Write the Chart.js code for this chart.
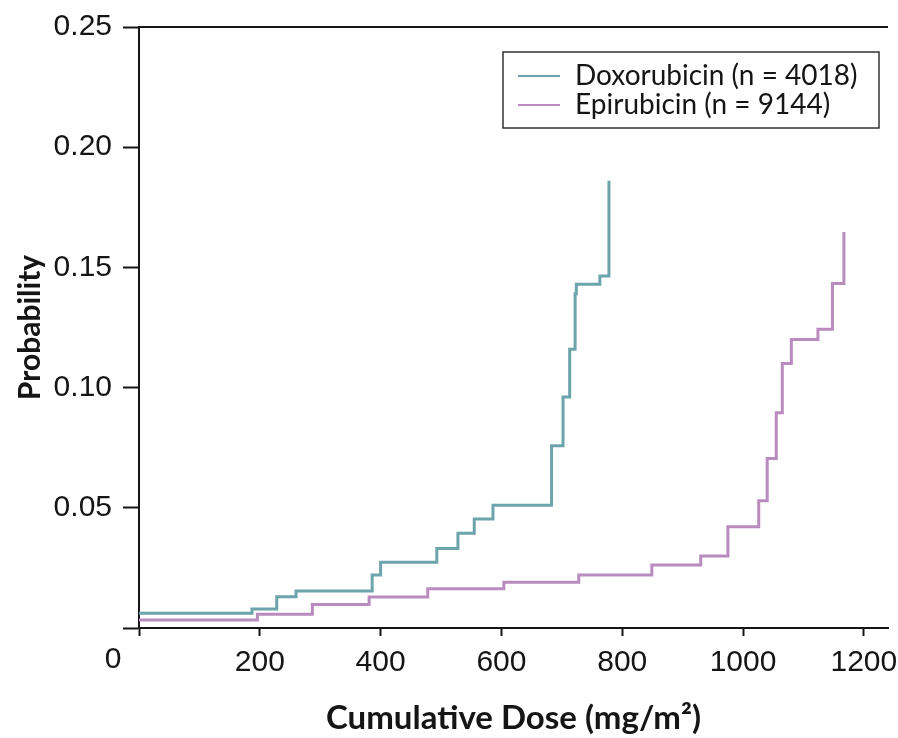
<!DOCTYPE html>
<html>
<head>
<meta charset="utf-8">
<script src="https://cdn.jsdelivr.net/npm/chart.js@4"></script>
<style>
  html, body { margin: 0; padding: 0; background: #fff; }
</style>
</head>
<body>
<canvas id="canvas" width="898" height="738"></canvas>
<script>
// cumulative probability of cardiotoxicity vs cumulative dose (step curves)
const doxDose = [0, 187, 228, 260, 386, 400, 493, 528, 555, 586, 683, 702, 713, 722, 724, 763, 778];
const doxProb = [0.0061, 0.0079, 0.013, 0.0154, 0.022, 0.0274, 0.0331, 0.0394, 0.0453, 0.0511, 0.0758, 0.0961, 0.116, 0.139, 0.143, 0.1464, 0.186];

const epiDose = [0, 196, 287, 381, 478, 604, 728, 849, 930, 975, 1026, 1040, 1055, 1065, 1080, 1124, 1148, 1167];
const epiProb = [0.0033, 0.0057, 0.0098, 0.0129, 0.0163, 0.019, 0.022, 0.0262, 0.0299, 0.0421, 0.0529, 0.0705, 0.0895, 0.110, 0.120, 0.1243, 0.1433, 0.1647];

const seriesLabels = ["Doxorubicin (n = 4018)", "Epirubicin (n = 9144)"];
const xTicks = [0, 200, 400, 600, 800, 1000, 1200];
const yTicks = [0, 0.05, 0.10, 0.15, 0.20, 0.25];

const ink = "#151515";
const tickFont = { family: "Liberation Sans", size: 30 };

function toPoints(xs, ys) {
  return xs.map((x, i) => ({ x: x, y: ys[i] }));
}

// top border line, the "0" origin label and the boxed legend
const extras = {
  id: "extras",
  afterDraw(chart) {
    const { ctx, chartArea, scales } = chart;
    ctx.save();

    ctx.strokeStyle = ink;
    ctx.lineWidth = 2;
    ctx.beginPath();
    ctx.moveTo(chartArea.left, chartArea.top);
    ctx.lineTo(chartArea.right, chartArea.top);
    ctx.stroke();

    ctx.font = tickFont.size + "px " + tickFont.family;
    ctx.fillStyle = ink;
    ctx.textAlign = "center";
    ctx.textBaseline = "middle";
    ctx.fillText("0", scales.x.getPixelForValue(0) - 26, chartArea.bottom + 32);

    // legend
    const bx = chartArea.right - 385, by = chartArea.top + 25;
    const bw = 376, bh = 76;
    ctx.lineWidth = 1.5;
    ctx.strokeStyle = "#333";
    ctx.strokeRect(bx, by, bw, bh);
    ctx.font = "28px Lato";
    ctx.textAlign = "left";
    ctx.textBaseline = "middle";
    chart.data.datasets.forEach((ds, i) => {
      const y = by + 24 + i * 29;
      ctx.strokeStyle = ds.borderColor;
      ctx.lineWidth = 2;
      ctx.beginPath();
      ctx.moveTo(bx + 15, y);
      ctx.lineTo(bx + 57, y);
      ctx.stroke();
      ctx.fillStyle = ink;
      ctx.fillText(ds.label, bx + 72, y);
    });
    ctx.restore();
  }
};

const chart = new Chart(document.getElementById("canvas"), {
  type: "line",
  data: {
    datasets: [
      {
        label: seriesLabels[0],
        data: toPoints(doxDose, doxProb),
        borderColor: "#6ca4ab",
        borderWidth: 3,
        stepped: "before",
        pointRadius: 0,
        fill: false,
      },
      {
        label: seriesLabels[1],
        data: toPoints(epiDose, epiProb),
        borderColor: "#b98bbf",
        borderWidth: 3,
        stepped: "before",
        pointRadius: 0,
        fill: false,
      },
    ],
  },
  options: {
    responsive: false,
    animation: false,
    layout: { padding: { top: 27, right: 10, left: 0, bottom: 0 } },
    plugins: {
      legend: { display: false },
      tooltip: { enabled: false },
    },
    scales: {
      x: {
        type: "linear",
        min: 0,
        max: 1240,
        afterBuildTicks: (axis) => { axis.ticks = xTicks.map((v) => ({ value: v })); },
        afterFit: (axis) => {
          axis.height = 110;
          axis.paddingLeft = 0;
          axis.paddingRight = 0;
        },
        ticks: {
          font: tickFont,
          color: ink,
          padding: 9,
          maxRotation: 0,
          callback: (v) => (v === 0 ? "" : String(v)),
        },
        grid: { drawOnChartArea: false, tickLength: 8, tickColor: ink, tickWidth: 2 },
        border: { display: true, color: ink, width: 2 },
        title: {
          display: true,
          text: "Cumulative Dose (mg/m²)",
          color: ink,
          font: { family: "Lato", size: 33, weight: "bold" },
          padding: { top: 0, bottom: 0 },
        },
      },
      y: {
        min: 0,
        max: 0.25,
        afterBuildTicks: (axis) => { axis.ticks = yTicks.map((v) => ({ value: v })); },
        afterFit: (axis) => {
          axis.width = 139;
          axis.paddingTop = 0;
          axis.paddingBottom = 0;
        },
        ticks: {
          font: tickFont,
          color: ink,
          padding: 11,
          callback: (v) => (v === 0 ? "" : v.toFixed(2)),
        },
        grid: { drawOnChartArea: false, tickLength: 16, tickColor: ink, tickWidth: 2 },
        border: { display: true, color: ink, width: 2 },
        title: {
          display: true,
          text: "Probability",
          color: ink,
          font: { family: "Lato", size: 30, weight: "bold" },
          padding: { top: 12, bottom: 0 },
        },
      },
    },
  },
  plugins: [extras],
});
</script>
</body>
</html>
